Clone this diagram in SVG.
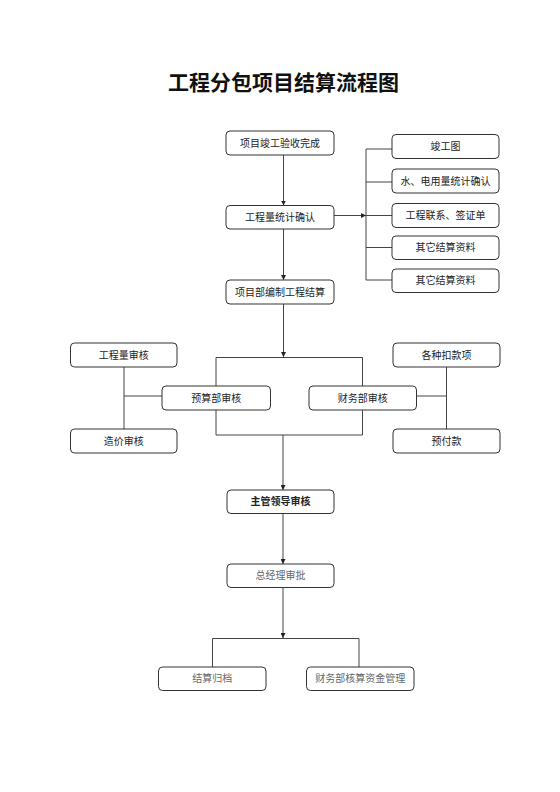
<svg xmlns="http://www.w3.org/2000/svg" width="560" height="792" viewBox="0 0 560 792">
<defs>
<marker id="ah" viewBox="0 0 10 10" refX="10" refY="5" markerWidth="5" markerHeight="5" orient="auto" markerUnits="userSpaceOnUse">
<path d="M0,0 L10,5 L0,10 Z" fill="#222"/>
</marker>
</defs>
<style>
.box{fill:#fff;stroke:#333;stroke-width:1}
.t{font-family:"Noto Sans CJK SC","Noto Sans",sans-serif;font-size:10px;fill:#222;text-anchor:middle}
.g{font-family:"Noto Sans CJK SC","Noto Sans",sans-serif;font-size:10px;fill:#666;text-anchor:middle}
.ln{fill:none;stroke:#444;stroke-width:1}
.ar{fill:none;stroke:#444;stroke-width:1;marker-end:url(#ah)}
</style>
<rect width="560" height="792" fill="#fff"/>
<text x="283.5" y="90" font-family="'Noto Sans CJK SC',sans-serif" font-size="21" font-weight="bold" text-anchor="middle" fill="#111">工程分包项目结算流程图</text>
<g id="connectors">
<path class="ar" d="M283.5,155 V205.5"/>
<path class="ar" d="M283.5,229 V280"/>
<path class="ar" d="M334,215.5 H366"/>
<path class="ln" d="M366,149 V280 M366,149 H392 M366,182 H392 M366,215.5 H392 M366,247.5 H392 M366,280 H392"/>
<path class="ar" d="M283.5,304 V357"/>
<path class="ln" d="M216,386 V357.5 H362.5 V386 M216,410 V435 H362.5 V410"/>
<path class="ln" d="M124,367 V429 M124,396 H162"/>
<path class="ln" d="M446.5,367 V429 M417,396 H446.5"/>
<path class="ar" d="M283,435 V490"/>
<path class="ar" d="M283,513 V564"/>
<path class="ar" d="M283,588 V638"/>
<path class="ln" d="M212.5,667 V638.5 H359 V667"/>
</g>
<g id="n1"><rect class="box" x="226" y="131" width="108" height="24" rx="4"/><text class="t" x="280" y="146.5">项目竣工验收完成</text></g>
<g id="n2"><rect class="box" x="226" y="205.5" width="108" height="23.5" rx="4"/><text class="t" x="280" y="220.5">工程量统计确认</text></g>
<g id="n3"><rect class="box" x="226" y="280" width="108" height="24" rx="4"/><text class="t" x="280" y="295.5">项目部编制工程结算</text></g>
<g id="r1"><rect class="box" x="392" y="134.5" width="107" height="24" rx="4"/><text class="t" x="445.5" y="150">竣工图</text></g>
<g id="r2"><rect class="box" x="392" y="169" width="107" height="24" rx="4"/><text class="t" x="445.5" y="184.5">水、电用量统计确认</text></g>
<g id="r3"><rect class="box" x="392" y="203.5" width="107" height="24" rx="4"/><text class="t" x="445.5" y="219">工程联系、签证单</text></g>
<g id="r4"><rect class="box" x="392" y="236" width="107" height="23.5" rx="4"/><text class="t" x="445.5" y="251">其它结算资料</text></g>
<g id="r5"><rect class="box" x="392" y="269" width="107" height="23.5" rx="4"/><text class="t" x="445.5" y="284">其它结算资料</text></g>
<g id="l1"><rect class="box" x="70.5" y="343" width="106.5" height="24" rx="4"/><text class="t" x="123.8" y="358.5">工程量审核</text></g>
<g id="l2"><rect class="box" x="70.5" y="429" width="106.5" height="24" rx="4"/><text class="t" x="123.8" y="444.5">造价审核</text></g>
<g id="m1"><rect class="box" x="162" y="386" width="108.5" height="24" rx="4"/><text class="t" x="216.2" y="401.5">预算部审核</text></g>
<g id="m2"><rect class="box" x="309" y="386" width="107.5" height="24" rx="4"/><text class="t" x="362.7" y="401.5">财务部审核</text></g>
<g id="k1"><rect class="box" x="393" y="343" width="107" height="24" rx="4"/><text class="t" x="446.5" y="358.5">各种扣款项</text></g>
<g id="k2"><rect class="box" x="393" y="429" width="107" height="24" rx="4"/><text class="t" x="446.5" y="444.5">预付款</text></g>
<g id="n4"><rect class="box" x="227" y="490" width="107" height="23.5" rx="4"/><text class="t" x="280.5" y="505" font-weight="bold">主管领导审核</text></g>
<g id="n5"><rect class="box" x="227" y="564" width="107" height="23.5" rx="4"/><text class="g" x="280.5" y="579">总经理审批</text></g>
<g id="b1"><rect class="box" x="158.5" y="667" width="107.5" height="23.5" rx="4"/><text class="g" x="212.2" y="682">结算归档</text></g>
<g id="b2"><rect class="box" x="306.5" y="667" width="107.5" height="23.5" rx="4"/><text class="g" x="360.2" y="682">财务部核算资金管理</text></g>
</svg>
